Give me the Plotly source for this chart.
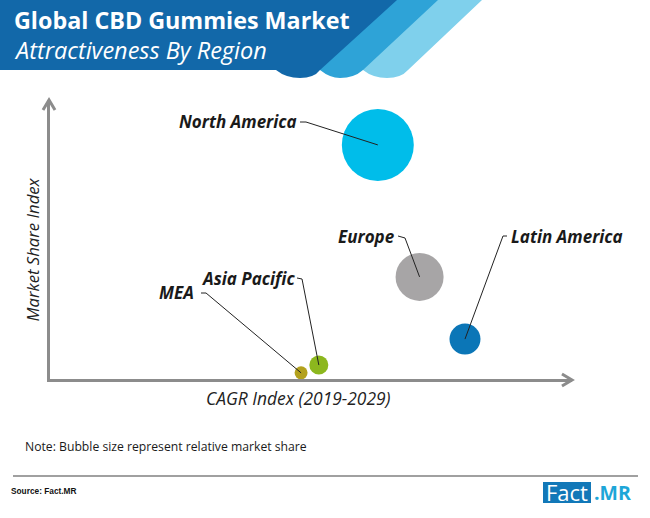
import plotly.graph_objects as go

W, H = 650, 518
# plot area edges in page pixels
LEFT, RIGHT, TOP, BOTTOM = 50, 572, 100, 379

regions = ["North America", "Europe", "Latin America", "Asia Pacific", "MEA"]
cagr_index = [62.8, 70.8, 79.5, 51.5, 48.1]
share_index = [83.9, 36.6, 14.3, 5.0, 2.2]
market_share = [72, 48, 31, 19, 13]
colors = ["#00bdea", "#a7a5a6", "#0b76b7", "#8cb71e", "#b3a11c"]


def to_plot_x(x):
    return (x - LEFT) / (RIGHT - LEFT)


def to_plot_y(y):
    return (BOTTOM - y) / (BOTTOM - TOP)


def page_path(points):
    return "M " + " L ".join(f"{to_plot_x(x):.4f},{to_plot_y(y):.4f}" for x, y in points)


def data_to_page(i):
    return LEFT + cagr_index[i] / 100 * (RIGHT - LEFT), BOTTOM - share_index[i] / 100 * (BOTTOM - TOP)


def band(x_top, x_low, x_start, x_mid, bottom, color):
    a = to_plot_x
    b = to_plot_y
    d = (
        f"M {a(0)},{b(0)} L {a(x_top)},{b(0)} L {a(x_low)},{b(bottom - 8)} "
        f"Q {a(x_mid + 14)},{b(bottom)} {a(x_mid)},{b(bottom)} "
        f"Q {a(x_start + 10)},{b(bottom)} {a(x_start)},{b(bottom - 8)} "
        f"L {a(0)},{b(bottom - 8)} Z"
    )
    return dict(type="path", xref="paper", yref="paper", path=d, fillcolor=color, line_width=0, layer="below")


fig = go.Figure(
    go.Scatter(
        x=cagr_index,
        y=share_index,
        text=regions,
        mode="markers",
        marker=dict(size=market_share, sizemode="diameter", color=colors, line_width=0, opacity=1),
        cliponaxis=False,
        hoverinfo="text",
    )
)

shapes = [
    band(482, 408, 363, 387, 78, "#7fd0ec"),
    band(438, 363, 320, 340, 78, "#2ea3d7"),
    band(397, 320, 276, 300, 78, "#1268a9"),
    # footer rule
    dict(type="path", xref="paper", yref="paper", path=page_path([(13, 476), (638, 476)]),
         line=dict(color="#808080", width=1.5)),
    # axis arrow heads
    dict(type="path", xref="paper", yref="paper", path=page_path([(43, 110), (49, 100), (55, 110)]),
         line=dict(color="#8c8c8c", width=3)),
    dict(type="path", xref="paper", yref="paper", path=page_path([(562, 374), (572, 380), (562, 386)]),
         line=dict(color="#8c8c8c", width=3)),
    # logo box
    dict(type="rect", xref="paper", yref="paper", x0=to_plot_x(543), x1=to_plot_x(591),
         y0=to_plot_y(503), y1=to_plot_y(482), fillcolor="#1278b8", line_width=0),
]

# leader lines: label elbow -> bubble centre
elbows = [
    [(300, 122), (306, 122)],
    [(398, 236), (405, 238)],
    [(507, 236), (503, 236)],
    [(297, 278), (302, 279)],
    [(201, 293), (206, 293)],
]
for i, pts in enumerate(elbows):
    shapes.append(dict(type="path", xref="paper", yref="paper", path=page_path(pts + [data_to_page(i)]),
                       line=dict(color="#222222", width=1)))


def label(text, x, y, size, color="#1a1a1a", bold=False, italic=False, anchor="left", family="Open Sans", angle=0):
    if bold:
        text = f"<b>{text}</b>"
    if italic:
        text = f"<i>{text}</i>"
    return dict(text=text, xref="paper", yref="paper", x=to_plot_x(x), y=to_plot_y(y), showarrow=False,
                xanchor=anchor, yanchor="middle", textangle=angle, borderpad=0,
                font=dict(family=family, size=size, color=color))


annotations = [
    label("Global CBD Gummies Market", 13, 20, 23.3, "white", bold=True),
    label("Attractiveness By Region", 13, 50, 23.5, "white", italic=True),
    label("North America", 178, 121, 17, bold=True, italic=True),
    label("Europe", 337, 236, 17, bold=True, italic=True),
    label("Latin America", 510, 236, 17, bold=True, italic=True),
    label("Asia Pacific", 200, 278, 17, bold=True, italic=True),
    label("MEA", 158, 292, 17, bold=True, italic=True),
    label("CAGR Index (2019-2029)", 298, 398, 17.4, "#222222", italic=True, anchor="center"),
    label("Market Share Index", 32, 249.5, 16.7, "#222222", italic=True, anchor="center", angle=-90),
    label("Note: Bubble size represent relative market share", 24, 446, 12.2),
    label("Source: Fact.MR", 10, 491, 8.3, "#111111", bold=True, family="Liberation Sans"),
    label("Fact", 567, 492, 22, "white", anchor="center"),
    label(".MR", 593, 492, 19.5, "#1da6d8", bold=True),
]

fig.update_layout(
    width=W,
    height=H,
    margin=dict(l=LEFT, r=W - RIGHT, t=TOP, b=H - BOTTOM, autoexpand=False),
    paper_bgcolor="white",
    plot_bgcolor="white",
    showlegend=False,
    shapes=shapes,
    annotations=annotations,
    xaxis=dict(
        range=[0, 100], showgrid=False, zeroline=False, showticklabels=False, ticks="",
        showline=True, linecolor="#8c8c8c", linewidth=3,
    ),
    yaxis=dict(
        range=[0, 100], showgrid=False, zeroline=False, showticklabels=False, ticks="",
        showline=True, linecolor="#8c8c8c", linewidth=3,
    ),
)

# drop the browser's default page margin so the figure sits at 0,0
fig.write_html("out.html", config={"displayModeBar": False}, post_script="document.body.style.margin='0';")
